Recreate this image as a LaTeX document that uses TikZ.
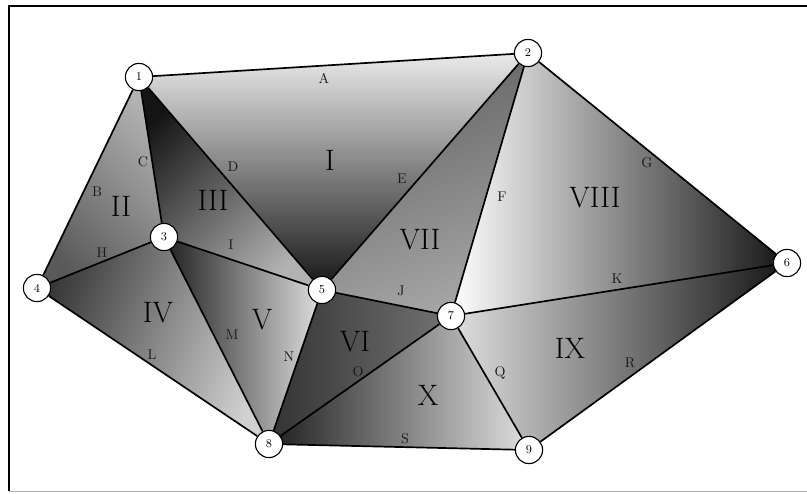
\documentclass[tikz,border=0pt]{standalone}
\usetikzlibrary{backgrounds}

\begin{document}
\begin{tikzpicture}[
        x=0.025cm, y=-0.025cm,
        % 頂点のスタイル
        vert/.style={circle, draw, fill=white, line width=0.8pt, minimum size=0.68cm, inner sep=0pt, font=\fontsize{8.5}{9}\selectfont},
        % 辺のスタイル
        edge/.style={line width=1.2pt},
        % 辺ラベルのスタイル
        elabel/.style={font=\fontsize{10}{12}\selectfont, text=black!90},
        % 面ラベルのスタイル
        face/.style={font=\fontsize{21}{24}\selectfont, text=black},
        % 枠のスタイル
        frame/.style={line width=1.8pt}
    ]
    \useasboundingbox (0,0) rectangle (807,493);

    % 枠
    \draw[frame] (9,491) -- (9,6) -- (808,6);
    \draw[black!30, line width=0.8pt] (9,491.5) -- (808,491.5);

    % 頂点の定義と配置
    \node[vert] (v1) at (139,77) {1};
    \node[vert] (v2) at (528,53) {2};
    \node[vert] (v3) at (164,237) {3};
    \node[vert] (v4) at (37,288) {4};
    \node[vert] (v5) at (322,290) {5};
    \node[vert] (v6) at (787,263) {6};
    \node[vert] (v7) at (451,316) {7};
    \node[vert] (v8) at (269,444) {8};
    \node[vert] (v9) at (529,450) {9};

    % 面の塗り（背景レイヤ）
    \begin{pgfonlayer}{background}
    \shade[top color=black!8, middle color=black!50, bottom color=black!92] (v1.center) -- (v2.center) -- (v5.center) -- cycle;
    \shade[top color=black!30, bottom color=black!65, shading angle=-45] (v1.center) -- (v3.center) -- (v4.center) -- cycle;
    \shade[top color=black!92, bottom color=black!30, shading angle=45] (v1.center) -- (v3.center) -- (v5.center) -- cycle;
    \shade[top color=black!78, bottom color=black!18, shading angle=70] (v3.center) -- (v4.center) -- (v8.center) -- cycle;
    \shade[top color=black!88, bottom color=black!12, shading angle=90] (v3.center) -- (v5.center) -- (v8.center) -- cycle;
    \shade[top color=black!80, bottom color=black!55, shading angle=90] (v5.center) -- (v7.center) -- (v8.center) -- cycle;
    \shade[top color=black!62, bottom color=black!35, shading angle=20] (v2.center) -- (v5.center) -- (v7.center) -- cycle;
    \shade[top color=white, bottom color=black!92, shading angle=90] (v2.center) -- (v7.center) -- (v6.center) -- cycle;
    \shade[top color=black!12, middle color=black!48, bottom color=black!92, shading angle=90] (v7.center) -- (v6.center) -- (v9.center) -- cycle;
    \shade[top color=black!88, bottom color=black!12, shading angle=90] (v7.center) -- (v8.center) -- (v9.center) -- cycle;
    \end{pgfonlayer}

    % 辺の描画
    \draw[edge] (v1) -- (v2);
    \draw[edge] (v1) -- (v4);
    \draw[edge] (v1) -- (v3);
    \draw[edge] (v1) -- (v5);
    \draw[edge] (v2) -- (v5);
    \draw[edge] (v2) -- (v7);
    \draw[edge] (v2) -- (v6);
    \draw[edge] (v3) -- (v4);
    \draw[edge] (v3) -- (v5);
    \draw[edge] (v5) -- (v7);
    \draw[edge] (v7) -- (v6);
    \draw[edge] (v4) -- (v8);
    \draw[edge] (v3) -- (v8);
    \draw[edge] (v5) -- (v8);
    \draw[edge] (v7) -- (v8);
    \draw[edge] (v7) -- (v9);
    \draw[edge] (v9) -- (v6);
    \draw[edge] (v8) -- (v9);

    % 辺ラベル
    \node[elabel] (lA) at (324,78) {A};
    \node[elabel] (lB) at (97,192) {B};
    \node[elabel] (lC) at (143,162) {C};
    \node[elabel] (lD) at (233,167) {D};
    \node[elabel] (lE) at (402,179) {E};
    \node[elabel] (lF) at (502,197) {F};
    \node[elabel] (lG) at (647,163) {G};
    \node[elabel] (lH) at (102,253) {H};
    \node[elabel] (lI) at (231,245) {I};
    \node[elabel] (lJ) at (401,291) {J};
    \node[elabel] (lK) at (617,279) {K};
    \node[elabel] (lL) at (152,355) {L};
    \node[elabel] (lM) at (232,335) {M};
    \node[elabel] (lN) at (289,357) {N};
    \node[elabel] (lO) at (358,372) {O};
    \node[elabel] (lQ) at (500,373) {Q};
    \node[elabel] (lR) at (630,363) {R};
    \node[elabel] (lS) at (405,439) {S};

    % 面ラベル
    \node[face] (fI) at (330,160) {I};
    \node[face] (fII) at (121,206) {II};
    \node[face] (fIII) at (213,200) {III};
    \node[face] (fIV) at (158,313) {IV};
    \node[face] (fV) at (262,320) {V};
    \node[face] (fVI) at (355,342) {VI};
    \node[face] (fVII) at (420,240) {VII};
    \node[face] (fVIII) at (595,198) {VIII};
    \node[face] (fIX) at (570,348) {IX};
    \node[face] (fX) at (428,395) {X};

    \end{tikzpicture}
\end{document}
